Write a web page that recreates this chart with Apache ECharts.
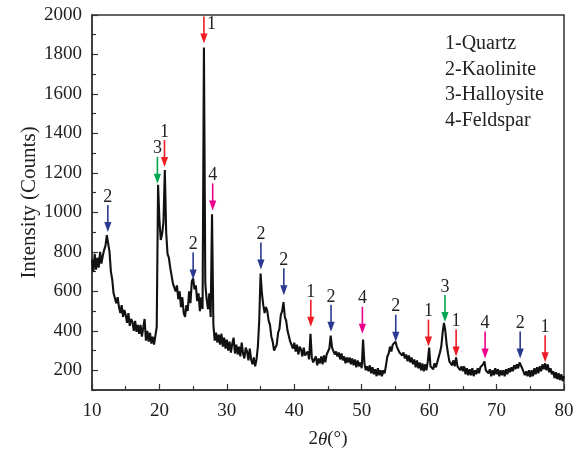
<!DOCTYPE html>
<html><head><meta charset="utf-8">
<script src="https://cdn.jsdelivr.net/npm/echarts@6/dist/echarts.min.js"></script>
<style>html,body{margin:0;padding:0;background:#fff}#c{width:584px;height:454px}</style>
</head><body><div id="c"></div>
<script>
// sampling grid of the diffractogram (2θ, degrees)
const angleStart = 10;
const angleStep = 0.2;
// intensity (counts), one value per 0.2°
const intensity = [
760,700,790,710,770, 720,800,740,780,810, 830,885,890,800,700, 660,590,600,540,570,
520,490,530,470,505, 480,440,490,425,460, 445,400,450,395,430, 385,430,370,415,460,
350,400,345,390,335, 370,330,340,420,1140, 960,860,890,950,1215, 900,790,770,720,710,
640,620,600,630,560, 600,520,570,490,470, 530,500,600,540,650, 665,610,630,550,590,
500,570,510,1835,640, 560,510,590,470,990, 430,350,390,340,380, 330,385,320,365,310,
355,300,345,290,335, 365,285,330,280,320, 270,340,285,260,315, 295,250,310,255,230,
265,220,255,320,450, 690,590,530,490,520, 500,450,430,370,345, 300,310,330,390,410,
480,500,545,470,450, 400,390,345,350,310, 340,295,330,280,320, 305,270,315,275,280,
295,255,385,265,240, 250,270,225,260,235, 270,230,275,240,280, 270,310,375,315,305,
280,295,270,290,255, 285,250,270,235,265, 240,265,230,260,225, 255,215,250,220,240,
210,355,235,200,220, 195,225,185,215,180, 205,170,210,175,200, 170,200,185,225,270,
285,320,295,330,330, 345,320,325,290,300, 275,290,260,280,245, 275,240,265,230,255,
215,250,210,240,200, 235,195,230,200,245, 315,220,225,205,235, 215,240,245,290,320,
390,440,400,330,285, 245,240,225,250,220, 265,220,215,200,220, 195,220,180,210,175,
205,175,210,170,200, 180,210,185,215,205, 230,245,200,200,185, 205,170,200,175,210,
180,205,170,200,175, 200,170,205,180,210, 190,215,195,225,205, 230,210,240,235,210,
210,175,195,170,200, 165,200,170,210,180, 215,185,220,195,230, 205,235,200,230,190,
210,180,195,160,190, 155,185,150,180,145, 170
];
// peak markers: position, intensity at arrow tip, phase number
const markAngle = [12.35, 19.7, 20.75, 26.6, 27.9, 25.0, 35.05, 38.45, 42.45, 45.45, 50.1, 55.05, 59.9, 62.35, 64.0, 68.3, 73.5, 77.2];
const markTip   = [900, 1145, 1230, 1855, 1010, 660, 710, 580, 420, 395, 385, 345, 320, 445, 270, 260, 260, 240];
const markPhase = [2, 3, 1, 1, 4, 2, 2, 2, 1, 2, 4, 2, 1, 3, 1, 4, 2, 1];
const phaseNames = ['1-Quartz', '2-Kaolinite', '3-Halloysite', '4-Feldspar'];
const xTicks = [10, 20, 30, 40, 50, 60, 70, 80];
const yTicks = [200, 400, 600, 800, 1000, 1200, 1400, 1600, 1800, 2000];
const yMinorTicks = [100, 300, 500, 700, 900, 1100, 1300, 1500, 1700, 1900];

const phaseColor = {1: '#ee1c25', 2: '#2b3990', 3: '#00a651', 4: '#ec008c'};
const FONT = 'Liberation Serif';

const lineData = intensity.map((v, i) => [+(angleStart + i * angleStep).toFixed(2), v]);
const marks = markAngle.map((a, i) => [a, markTip[i], markPhase[i]]);

const chart = echarts.init(document.getElementById('c'), null, {renderer: 'canvas'});
const GRID = {left: 92, right: 20, top: 15, bottom: 60};
chart.setOption({
  animation: false,
  backgroundColor: '#fff',
  grid: Object.assign({show: true, borderColor: '#333', borderWidth: 1.5, backgroundColor: 'transparent'}, GRID),
  xAxis: {
    type: 'value', min: 10, max: 80, interval: 10,
    axisLine: {onZero: false, lineStyle: {color: '#333', width: 1.5}},
    axisTick: {inside: true, length: 6, lineStyle: {color: '#333', width: 1.2}},
    minorTick: {show: true, splitNumber: 2, length: 4, lineStyle: {color: '#333', width: 1.2}},
    axisLabel: {customValues: xTicks, color: '#222', fontFamily: FONT, fontSize: 19, margin: 12, formatter: v => String(v)},
    splitLine: {show: false},
    name: '2{i|θ}(°)', nameLocation: 'middle', nameGap: 40,
    nameTextStyle: {color: '#222', fontFamily: FONT, fontSize: 19, rich: {i: {fontStyle: 'italic', fontFamily: FONT, fontSize: 19, color: '#222'}}}
  },
  yAxis: [{
    type: 'value', min: 100, max: 2000,
    axisLine: {onZero: false, lineStyle: {color: '#333', width: 1.5}},
    axisTick: {inside: true, length: 6, customValues: yTicks, lineStyle: {color: '#333', width: 1.2}},
    axisLabel: {customValues: yTicks, color: '#222', fontFamily: FONT, fontSize: 19, margin: 10, formatter: v => String(v)},
    splitLine: {show: false},
    name: 'Intensity (Counts)', nameLocation: 'middle', nameGap: 52, nameRotate: 90, nameMoveOverlap: false,
    nameTextStyle: {color: '#222', fontFamily: FONT, fontSize: 21}
  }, {
    type: 'value', min: 100, max: 2000, position: 'left',
    axisLine: {show: false},
    axisTick: {inside: true, length: 4, customValues: yMinorTicks, lineStyle: {color: '#333', width: 1.2}},
    axisLabel: {show: false},
    splitLine: {show: false}
  }],
  series: [{
    type: 'line', data: lineData, showSymbol: false, symbol: 'none', sampling: null,
    lineStyle: {color: '#111', width: 2.1}, z: 2
  }, {
    type: 'custom', data: marks, z: 5, clip: false,
    renderItem: function (params, api) {
      const p = api.coord([api.value(0), api.value(1)]);
      const col = phaseColor[api.value(2)];
      const x = p[0], y = p[1];
      const len = 27, headH = 10, headW = 3.6;
      const top = y - len;
      const children = [
        {type: 'line', shape: {x1: x, y1: top, x2: x, y2: y - headH + 1}, style: {stroke: col, lineWidth: 1.6}},
        {type: 'polygon', shape: {points: [[x - headW, y - headH], [x + headW, y - headH], [x, y]]}, style: {fill: col}}
      ];
      const above = top - 20 > GRID.top;
      children.push({
        type: 'text',
        x: above ? x : x + 3, y: above ? top + 1 : top - 1,
        style: {text: String(api.value(2)), fill: '#222', font: '18px "' + FONT + '"',
                align: above ? 'center' : 'left', verticalAlign: above ? 'bottom' : 'top'}
      });
      return {type: 'group', children: children};
    }
  }],
  graphic: phaseNames.map((t, i) => ({
    type: 'text', left: 445, top: 34 + i * 25.5,
    style: {text: t, fill: '#222', font: '20px "' + FONT + '"'}
  }))
});
</script></body></html>
